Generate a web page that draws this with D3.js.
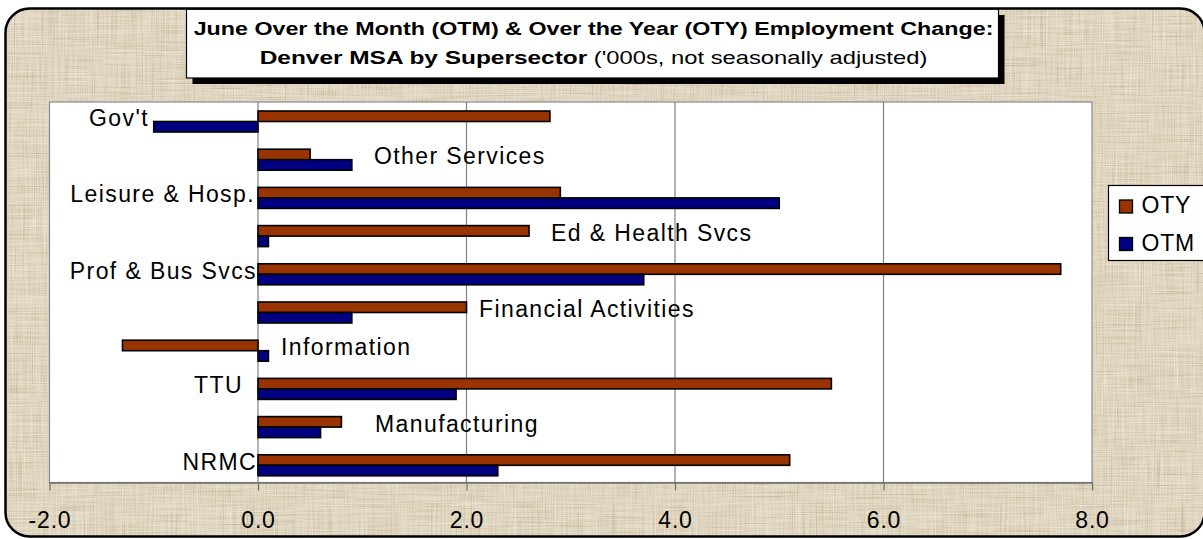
<!DOCTYPE html>
<html>
<head>
<meta charset="utf-8">
<script src="https://cdn.jsdelivr.net/npm/d3@7"></script>
<style>
  html, body { margin: 0; padding: 0; background: #ffffff; }
  svg { display: block; font-family: "Liberation Sans", Arial, sans-serif; }
</style>
</head>
<body>
<div id="chart"></div>
<script>
// Data ('000s jobs)
let categories = ["Gov't", 'Other Services', 'Leisure & Hosp.', 'Ed & Health Svcs', 'Prof & Bus Svcs',
  'Financial Activities', 'Information', 'TTU', 'Manufacturing', 'NRMC'];
let otyValues = [2.8, 0.5, 2.9, 2.6, 7.7, 2.0, -1.3, 5.5, 0.8, 5.1];
let otmValues = [-1.0, 0.9, 5.0, 0.1, 3.7, 0.9, 0.1, 1.9, 0.6, 2.3];
let seriesNames = ['OTY', 'OTM'];
let xTicks = [-2, 0, 2, 4, 6, 8];
let titleLine1 = 'June Over the Month (OTM) & Over the Year (OTY) Employment Change:';
let titleLine2Bold = 'Denver MSA by Supersector';
let titleLine2 = " ('000s, not seasonally adjusted)";

let width = 1203;
let height = 539;

let plot = { left: 49.5, right: 1092, top: 102, bottom: 482.5 };
let seriesColor = { OTY: '#993300', OTM: '#000080' };

// where the hand-placed category labels sit, as pixel offsets from the zero line
let labelLayout = [
  { anchor: 'end', dx: -109 },
  { anchor: 'start', dx: 116 },
  { anchor: 'end', dx: -3 },
  { anchor: 'start', dx: 293 },
  { anchor: 'end', dx: -1 },
  { anchor: 'start', dx: 221 },
  { anchor: 'start', dx: 23 },
  { anchor: 'end', dx: -15 },
  { anchor: 'start', dx: 117 },
  { anchor: 'end', dx: -1 }
];

let rows = categories.map((c, i) => ({ name: c, OTY: otyValues[i], OTM: otmValues[i], i: i }));

let svg = d3.select('#chart').append('svg')
  .attr('width', width)
  .attr('height', height);

let defs = svg.append('defs');

// linen texture for the chart background
let linen = defs.append('filter').attr('id', 'linen')
  .attr('filterUnits', 'userSpaceOnUse')
  .attr('x', 0).attr('y', 0).attr('width', width).attr('height', height);
linen.append('feTurbulence').attr('type', 'fractalNoise').attr('baseFrequency', '0.02 0.9')
  .attr('numOctaves', 2).attr('seed', 2).attr('result', 't1');
linen.append('feTurbulence').attr('type', 'fractalNoise').attr('baseFrequency', '0.9 0.02')
  .attr('numOctaves', 2).attr('seed', 5).attr('result', 't2');
linen.append('feComposite').attr('in', 't1').attr('in2', 't2').attr('operator', 'arithmetic')
  .attr('k1', 0).attr('k2', 0.5).attr('k3', 0.5).attr('k4', 0).attr('result', 't');
linen.append('feColorMatrix').attr('in', 't').attr('type', 'matrix')
  .attr('values', '0.33 0.33 0.33 0 0  0.33 0.33 0.33 0 0  0.33 0.33 0.33 0 0  0 0 0 0 1')
  .attr('result', 'g0');
let contrast = linen.append('feComponentTransfer').attr('in', 'g0').attr('result', 'g');
['feFuncR', 'feFuncG', 'feFuncB'].forEach(f => {
  contrast.append(f).attr('type', 'linear').attr('slope', 2.6).attr('intercept', -0.8);
});
linen.append('feFlood').attr('flood-color', '#e0d6c1').attr('result', 'base');
linen.append('feBlend').attr('in', 'g').attr('in2', 'base').attr('mode', 'soft-light');

let frame = { x: 5.5, y: 8.5, w: 1199, h: 528, r: 24 };

defs.append('clipPath').attr('id', 'frameClip')
  .append('rect')
  .attr('x', frame.x).attr('y', frame.y)
  .attr('width', frame.w).attr('height', frame.h)
  .attr('rx', frame.r);

svg.append('rect')
  .attr('x', 0).attr('y', 0)
  .attr('width', width).attr('height', height)
  .attr('filter', 'url(#linen)')
  .attr('clip-path', 'url(#frameClip)');

// Scales
let x = d3.scaleLinear()
  .domain([xTicks[0], xTicks[xTicks.length - 1]])
  .range([plot.left, plot.right]);

let y = d3.scaleBand()
  .domain(categories)
  .range([102.4, 484.4])
  .paddingInner(0.45)
  .paddingOuter(0.225);

let ySeries = d3.scaleBand()
  .domain(seriesNames)
  .range([0, y.bandwidth()]);

// Plot area
svg.append('rect')
  .attr('x', plot.left).attr('y', plot.top)
  .attr('width', plot.right - plot.left).attr('height', plot.bottom - plot.top)
  .attr('fill', '#ffffff')
  .attr('stroke', '#8a8a8a')
  .attr('stroke-width', 1.2);

// vertical gridlines
svg.append('g')
  .selectAll('line')
  .data(xTicks.filter(t => t > xTicks[0] && t < xTicks[xTicks.length - 1] && t !== 0))
  .join('line')
  .attr('x1', d => x(d)).attr('x2', d => x(d))
  .attr('y1', plot.top).attr('y2', plot.bottom)
  .attr('stroke', '#808080')
  .attr('stroke-width', 1.2);

// x axis along the bottom
let fmt = d3.format('.1f');
let xAxis = svg.append('g')
  .attr('transform', `translate(0,${plot.bottom})`)
  .call(d3.axisBottom(x).tickValues(xTicks)
    .tickFormat(d => fmt(d).replace('\u2212', '-'))
    .tickSizeInner(8).tickSizeOuter(0).tickPadding(21));
xAxis.select('.domain').attr('stroke', '#6e6e6e').attr('stroke-width', 1.4);
xAxis.selectAll('.tick line').attr('stroke', '#6e6e6e').attr('stroke-width', 1.2);
xAxis.selectAll('.tick text')
  .attr('fill', '#000')
  .attr('font-size', '23px')
  .attr('letter-spacing', '0.8px')
  .attr('font-family', '"Liberation Sans", Arial, sans-serif');

// category axis at zero
svg.append('line')
  .attr('x1', x(0)).attr('x2', x(0))
  .attr('y1', plot.top).attr('y2', plot.bottom)
  .attr('stroke', '#808080')
  .attr('stroke-width', 1.2);

// Bars
let groups = svg.append('g')
  .selectAll('g')
  .data(rows)
  .join('g')
  .attr('transform', d => `translate(0,${y(d.name)})`);

groups.selectAll('rect')
  .data(d => seriesNames.map(s => ({ key: s, value: d[s] })))
  .join('rect')
  .attr('x', d => x(Math.min(0, d.value)))
  .attr('y', d => ySeries(d.key))
  .attr('width', d => Math.abs(x(d.value) - x(0)))
  .attr('height', ySeries.bandwidth())
  .attr('fill', d => seriesColor[d.key])
  .attr('stroke', '#000')
  .attr('stroke-width', 1.6);

// Category labels
svg.append('g')
  .selectAll('text')
  .data(rows)
  .join('text')
  .attr('x', d => x(0) + labelLayout[d.i].dx)
  .attr('y', d => y(d.name) + y.bandwidth() / 2 + 4.5)
  .attr('text-anchor', d => labelLayout[d.i].anchor)
  .attr('font-size', '23px')
  .attr('letter-spacing', '1.4px')
  .attr('fill', '#000')
  .text(d => d.name);

// Title box with drop shadow
let titleBox = { x: 186.5, y: 9, w: 812, h: 69 };
svg.append('rect')
  .attr('x', titleBox.x + 6).attr('y', titleBox.y + 6)
  .attr('width', titleBox.w).attr('height', titleBox.h)
  .attr('fill', '#000');
svg.append('rect')
  .attr('x', titleBox.x).attr('y', titleBox.y)
  .attr('width', titleBox.w).attr('height', titleBox.h)
  .attr('fill', '#fff')
  .attr('stroke', '#000')
  .attr('stroke-width', 1.2);

let titleCx = titleBox.x + titleBox.w / 2 + 1;
let t1 = svg.append('g').attr('transform', `translate(${titleCx},34.5)`);
let t1text = t1.append('text')
  .attr('text-anchor', 'middle')
  .attr('font-size', '18.5px')
  .attr('font-weight', 'bold')
  .text(titleLine1);
// the original text is drawn wider than the font, stretch it to the box
let stretch = (titleBox.w - 12) / t1text.node().getComputedTextLength();
t1.attr('transform', `translate(${titleCx},34.5) scale(${stretch},1)`);

let t2 = svg.append('g').attr('transform', `translate(${titleCx},63.5) scale(${stretch * 1.05},1)`);
let t2text = t2.append('text')
  .attr('text-anchor', 'middle')
  .attr('font-size', '18.5px');
t2text.append('tspan').attr('font-weight', 'bold').text(titleLine2Bold);
t2text.append('tspan').attr('font-weight', 'normal').attr('font-size', '18px').text(titleLine2);

// Legend
let legend = svg.append('g').attr('transform', 'translate(1108.5,185.5)');
legend.append('rect')
  .attr('width', 110).attr('height', 75)
  .attr('fill', '#fff')
  .attr('stroke', '#000')
  .attr('stroke-width', 1.2);

let legendItems = legend.selectAll('.item')
  .data(seriesNames)
  .join('g')
  .attr('class', 'item')
  .attr('transform', (d, i) => `translate(11,${14.5 + i * 37.5})`);

legendItems.append('rect')
  .attr('width', 13).attr('height', 13)
  .attr('fill', d => seriesColor[d])
  .attr('stroke', '#000')
  .attr('stroke-width', 1.3);

legendItems.append('text')
  .attr('x', 22)
  .attr('y', 13)
  .attr('font-size', '23px')
  .attr('letter-spacing', '0.8px')
  .attr('fill', '#000')
  .text(d => d);

// Outer rounded frame
svg.append('rect')
  .attr('x', frame.x).attr('y', frame.y)
  .attr('width', frame.w).attr('height', frame.h)
  .attr('rx', frame.r)
  .attr('fill', 'none')
  .attr('stroke', '#000')
  .attr('stroke-width', 2.5);
</script>
</body>
</html>
